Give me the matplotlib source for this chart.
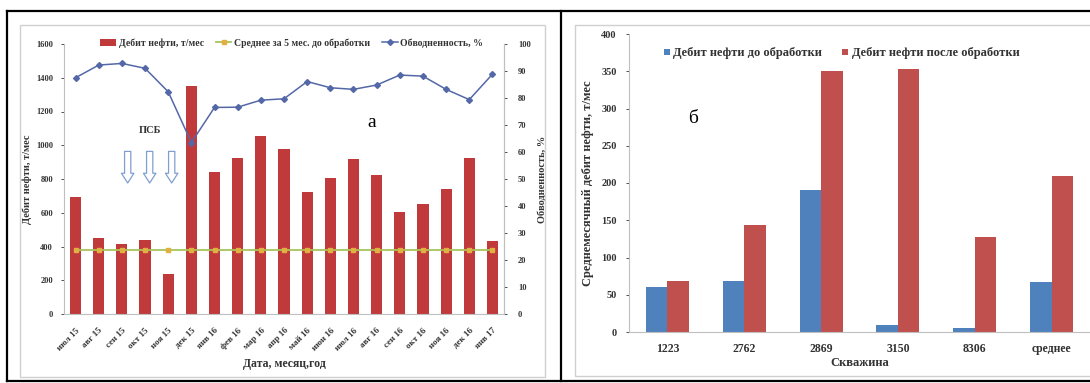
import matplotlib
matplotlib.use("Agg")
import matplotlib.pyplot as plt
from matplotlib.patches import Rectangle
from matplotlib.lines import Line2D
import numpy as np

# ---- data (left panel) ----
months = ["июл 15", "авг 15", "сен 15", "окт 15", "ноя 15", "дек 15", "янв 16",
          "фев 16", "мар 16", "апр 16", "май 16", "июн 16", "июл 16", "авг 16",
          "сен 16", "окт 16", "ноя 16", "дек 16", "янв 17"]
oil_rate = [693, 448, 413, 436, 237, 1351, 841, 922, 1053, 978, 723, 806, 918,
            823, 604, 652, 741, 922, 432]
avg_before = [380] * len(months)
watercut = [87.5, 92.2, 92.8, 91.0, 82.3, 63.5, 76.5, 76.6, 79.2, 79.7, 86.1,
            83.8, 83.2, 84.8, 88.5, 88.1, 83.2, 79.4, 88.8]

# ---- data (right panel) ----
wells = ["1223", "2762", "2869", "3150", "8306", "среднее"]
before = [61, 69, 191, 9, 6, 67]
after = [68, 144, 350, 353, 128, 209]

SERIF = ["Liberation Serif", "DejaVu Serif"]
plt.rcParams["font.family"] = SERIF

W, H = 1090, 383
fig = plt.figure(figsize=(W / 100, H / 100), dpi=100)

def fx(px):
    return px / W

def fy(py):
    return 1 - py / H

# outer table frame and chart-area borders
fig.add_artist(Rectangle((fx(20), fy(377)), fx(545) - fx(20), fy(25) - fy(377),
                         transform=fig.transFigure, fill=False, ec="#D0D0D0", lw=1))
fig.add_artist(Rectangle((fx(575), fy(376)), fx(1092) - fx(575), fy(25) - fy(376),
                         transform=fig.transFigure, fill=False, ec="#D0D0D0", lw=1))
for xs, ys in [([7, 1090], [11, 11]), ([7, 1090], [381, 381]),
               ([7, 7], [11, 381]), ([561, 561], [11, 381])]:
    fig.add_artist(Line2D([fx(v) for v in xs], [fy(v) for v in ys],
                          transform=fig.transFigure, color="black", lw=1.6))

GRAY = "#BFBFBF"
TXT = "#333333"
RED = "#C0393B"
RED2 = "#C0504D"
BLUE = "#4F81BD"
LINEBLUE = "#5468A8"
GREEN = "#A8C55A"

def style_ticks(axis_obj):
    for t in axis_obj.get_xticklabels() + axis_obj.get_yticklabels():
        t.set_fontweight("bold")
        t.set_color(TXT)

# ================= left panel =================
ax = fig.add_axes([fx(64), fy(314), fx(504) - fx(64), fy(44) - fy(314)])
x = np.arange(len(months))
bars = ax.bar(x, oil_rate, width=0.48, color=RED, zorder=2, label="Дебит нефти, т/мес")
avg_line, = ax.plot(x, avg_before, color=GREEN, lw=1.3, marker="s", ms=2.2,
                    mfc="#E0B040", mec="#E0B040", zorder=3,
                    label="Среднее за 5 мес. до обработки")
ax.set_xlim(-0.5, len(months) - 0.5)
ax.set_ylim(0, 1600)
ax.set_yticks(range(0, 1601, 200))
ax.set_xticks(x)
ax.set_xticklabels(months, rotation=45, ha="right", rotation_mode="anchor")
ax.spines["top"].set_visible(False)
for s in ["left", "bottom", "right"]:
    ax.spines[s].set_color(GRAY)
    ax.spines[s].set_linewidth(0.8)
ax.tick_params(axis="y", labelsize=6, colors=TXT, length=2, width=0.6, pad=6)
ax.tick_params(axis="x", labelsize=6.5, colors=TXT, length=0, pad=9)
style_ticks(ax)
ax.set_xlabel("Дата, месяц,год", fontsize=8.5, fontweight="bold", color=TXT,
              labelpad=4)
ax.set_ylabel("Дебит нефти, т/мес", fontsize=7.5, fontweight="bold", color=TXT,
              labelpad=3)

ax2 = ax.twinx()
wc_line, = ax2.plot(x, watercut, color=LINEBLUE, lw=1.1, marker="D", ms=3,
                    mfc=LINEBLUE, mec=LINEBLUE, zorder=4, label="Обводненность, %")
ax2.set_ylim(0, 100)
ax2.set_yticks(range(0, 101, 10))
for s in ["top", "left", "bottom"]:
    ax2.spines[s].set_visible(False)
ax2.spines["right"].set_color(GRAY)
ax2.spines["right"].set_linewidth(0.8)
ax2.tick_params(axis="y", labelsize=6, colors=TXT, length=2, width=0.6, pad=8)
style_ticks(ax2)
ax2.set_ylabel("Обводненность, %", fontsize=7.5, fontweight="bold", color=TXT,
               labelpad=5)

leg = ax.legend(handles=[bars, avg_line, wc_line], ncol=3, loc="center",
                bbox_to_anchor=(0.518, 1.004), frameon=False, fontsize=7,
                handlelength=1.6, columnspacing=1.2, handletextpad=0.3,
                borderaxespad=0)
for t in leg.get_texts():
    t.set_color(TXT)
    t.set_fontweight("bold")

# PSB annotation with hollow arrows
ax.text(3.2, 1060, "ПСБ", ha="center", va="bottom", fontsize=7.5, fontweight="bold",
        color=TXT)
for xa in [2.25, 3.2, 4.15]:
    ax.annotate("", xy=(xa, 760), xytext=(xa, 980),
                arrowprops=dict(arrowstyle="simple,head_width=0.9,head_length=0.7,tail_width=0.45",
                                fc="white", ec="#7F9FCF", lw=0.9))
ax.text(0.70, 0.71, "а", transform=ax.transAxes, fontsize=14, ha="center",
        va="center", color="black")

# ================= right panel =================
bx = fig.add_axes([fx(629), fy(332), fx(1090) - fx(629), fy(34) - fy(332)])
xw = np.arange(len(wells))
bw = 0.28
b1 = bx.bar(xw - bw / 2, before, width=bw, color=BLUE, label="Дебит нефти до обработки")
b2 = bx.bar(xw + bw / 2, after, width=bw, color=RED2, label="Дебит нефти после обработки")
bx.set_xlim(-0.5, len(wells) - 0.5)
bx.set_ylim(0, 400)
bx.set_yticks(range(0, 401, 50))
bx.set_xticks(xw)
bx.set_xticklabels(wells)
for s in ["top", "right"]:
    bx.spines[s].set_visible(False)
for s in ["left", "bottom"]:
    bx.spines[s].set_color(GRAY)
    bx.spines[s].set_linewidth(0.8)
bx.tick_params(axis="y", labelsize=7.5, colors=TXT, length=2, width=0.6, pad=7)
bx.tick_params(axis="x", labelsize=8.5, colors=TXT, length=0, pad=8)
style_ticks(bx)
bx.set_xlabel("Скважина", fontsize=9, fontweight="bold", color=TXT, labelpad=1)
bx.set_ylabel("Среднемесячный дебит нефти, т/мес", fontsize=9, fontweight="bold",
              color=TXT, labelpad=5)
leg2 = bx.legend(handles=[b1, b2], ncol=2, loc="center left",
                 bbox_to_anchor=(0.065, 0.935), frameon=False, fontsize=9,
                 handlelength=0.45, handleheight=0.45, columnspacing=1.6,
                 handletextpad=0.3, borderaxespad=0)
for t in leg2.get_texts():
    t.set_color(TXT)
    t.set_fontweight("bold")
bx.text(0.14, 0.715, "б", transform=bx.transAxes, fontsize=14, ha="center",
        va="center", color="black")

fig.savefig("out.png", dpi=100)
